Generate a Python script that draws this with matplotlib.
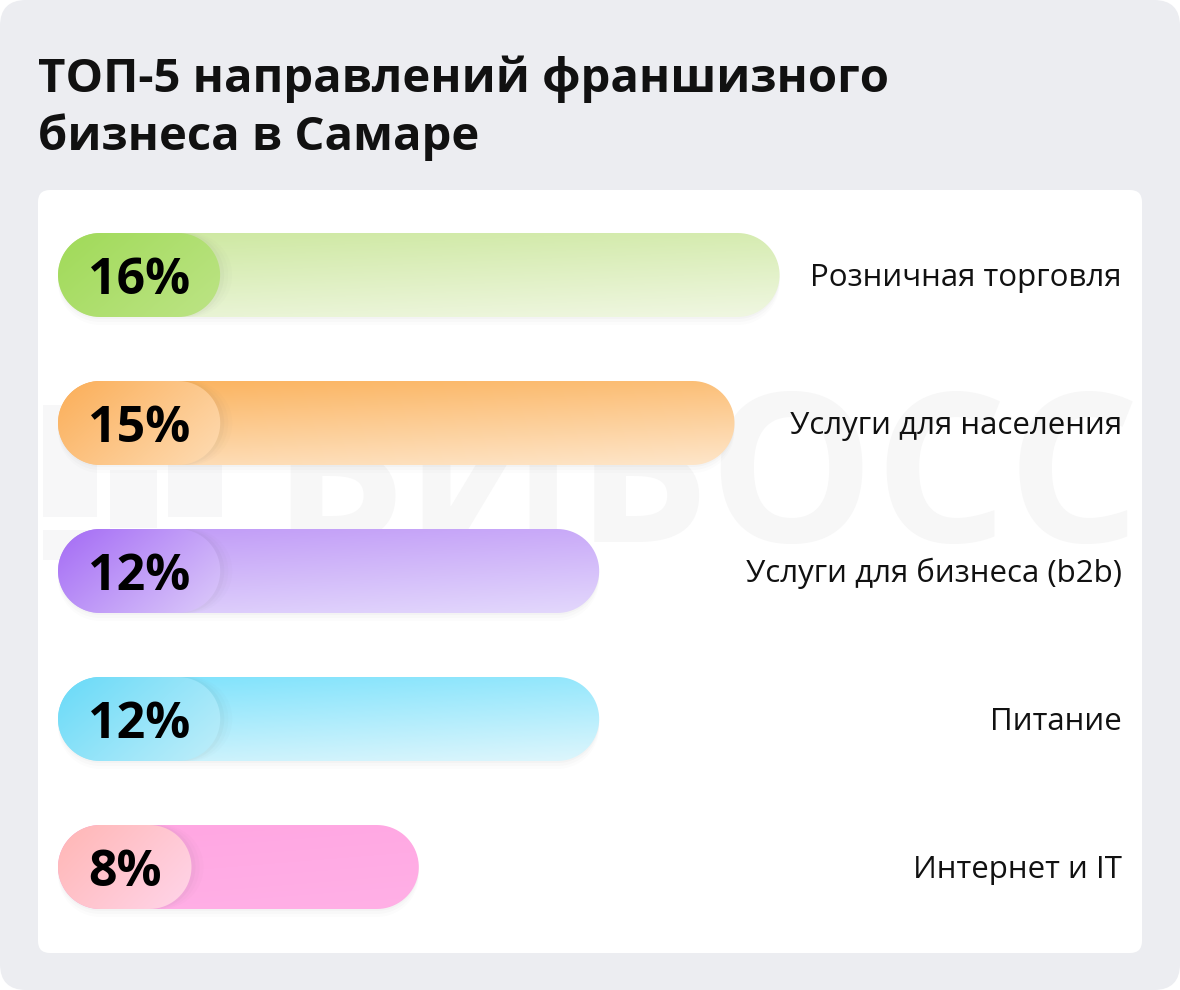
import numpy as np
import matplotlib
matplotlib.use("Agg")
from matplotlib import pyplot as plt
from matplotlib.patches import FancyBboxPatch, Rectangle, Polygon
from matplotlib.colors import to_rgb
from matplotlib.transforms import offset_copy, blended_transform_factory

plt.rcParams['font.family'] = ['Open Sans', 'DejaVu Sans']

title_lines = ["ТОП-5 направлений франшизного", "бизнеса в Самаре"]
categories = ["Розничная торговля", "Услуги для населения", "Услуги для бизнеса (b2b)",
              "Питание", "Интернет и IT"]
values = [16, 15, 12, 12, 8]

# (bar top-left, bar bottom-right, pill left, pill right)
bar_colors = [
    ("#cde8a0", "#f0f7e2", "#a0da58", "#bde486"),
    ("#fbb25c", "#fee6ca", "#fbae58", "#fedcb4"),
    ("#c09af7", "#e3d8fc", "#a46bf5", "#dccbfa"),
    ("#7ce2fc", "#def6fc", "#68daf8", "#c0eefa"),
    ("#ffa6e2", "#ffb0e6", "#ffb6b4", "#ffd5ea"),
]

W, H = 1180, 990
fig = plt.figure(figsize=(W / 100, H / 100), dpi=100)
fig.patch.set_facecolor("white")

bg = fig.add_axes([0, 0, 1, 1])
bg.set_xlim(0, W)
bg.set_ylim(H, 0)
bg.axis("off")
bg.add_patch(FancyBboxPatch((0, 0), W, H, boxstyle="round,pad=0,rounding_size=26",
                            fc="#ecedf1", ec="none"))
bg.add_patch(FancyBboxPatch((38, 190), 1104, 763, boxstyle="round,pad=0,rounding_size=12",
                            fc="white", ec="none"))

# faint watermark
for (x, y, w, h) in [(43, 405, 54, 112), (110, 470, 47, 58), (168, 405, 54, 112),
                     (43, 530, 54, 30), (168, 530, 54, 30), (110, 540, 47, 20)]:
    bg.add_patch(Rectangle((x, y), w, h, fc="#f7f7f8", ec="none"))
bg.text(1140, 488, "БИБОСС", ha="right", va="center", fontsize=150,
        color="#f7f7f7", fontweight="bold")

bg.text(38, 92, title_lines[0], fontsize=34, fontweight="bold", va="baseline", color="#111111")
bg.text(38, 150, title_lines[1], fontsize=34, fontweight="bold", va="baseline", color="#111111")

# bar axes: x in percent, y in rows
x0_px, px_per_pct, xmax = 58, 45.1, 20
row_px = 148
ax = fig.add_axes([x0_px / W, (H - 941) / H, px_per_pct * xmax / W, row_px * 5 / H])
ax.set_xlim(0, xmax)
ax.set_ylim(4.5, -0.5)
ax.axis("off")

bh = 84 / row_px
rx = 42 / px_per_pct
ry = bh / 2

def pill_patch(x_end, yc, dx=0.0, dy=0.0, **kw):
    t = np.linspace(-np.pi / 2, np.pi / 2, 40)
    right = np.c_[x_end - rx + rx * np.cos(t), yc + ry * np.sin(t)]
    tb = t[::-1]
    left = np.c_[rx - rx * np.cos(tb), yc + ry * np.sin(tb)]
    pts = np.r_[right, left] + [dx, dy]
    return Polygon(pts, closed=True, **kw)

def grad_img(c1, c2, wx, wy, n=60, m=200):
    xx, yy = np.meshgrid(np.linspace(0, 1, m), np.linspace(0, 1, n))
    t = (wx * xx + wy * yy) / (wx + wy)
    a, b = np.array(to_rgb(c1)), np.array(to_rgb(c2))
    return a[None, None, :] * (1 - t[..., None]) + b[None, None, :] * t[..., None]

fig.canvas.draw()
renderer = fig.canvas.get_renderer()
inv = ax.transData.inverted()
lbl_tr = offset_copy(blended_transform_factory(fig.transFigure, ax.transData), fig,
                     y=-11, units="dots")

for i, (cat, v, cols) in enumerate(zip(categories, values, bar_colors)):
    top = i - bh / 2
    # soft shadow under bar
    for k, a in [(8, 0.010), (5, 0.015), (2, 0.02)]:
        ax.add_patch(pill_patch(v, i, dy=k / row_px, fc="black", alpha=a, ec="none"))
    bar = pill_patch(v, i, fc="none", ec="none")
    ax.add_patch(bar)
    im = ax.imshow(grad_img(cols[0], cols[1], 0.35, 1.0), extent=(0, v, i + bh / 2, top),
                   origin="upper", aspect="auto", interpolation="bilinear", zorder=1)
    im.set_clip_path(bar)

    lbl = ax.text(30 / px_per_pct, i, f"{v}%", fontsize=36, fontweight="bold", color="#000000",
                  va="baseline", ha="left", zorder=5,
                  transform=offset_copy(ax.transData, fig, y=-19, units="dots"))
    ext = lbl.get_window_extent(renderer)
    pill_w = inv.transform((ext.x1 + 30, 0))[0]

    for k, a in [(12, 0.015), (8, 0.02), (4, 0.03)]:
        sh = pill_patch(pill_w + k / px_per_pct, i, fc="#555555", alpha=a, ec="none", zorder=2)
        ax.add_patch(sh)
        sh.set_clip_path(bar)
    pill = pill_patch(pill_w, i, fc="none", ec="none", zorder=3)
    ax.add_patch(pill)
    pim = ax.imshow(grad_img(cols[2], cols[3], 1.0, 0.6), extent=(0, pill_w, i + bh / 2, top),
                    origin="upper", aspect="auto", interpolation="bilinear", zorder=3)
    pim.set_clip_path(pill)

    ax.text(1122 / W, i, cat, fontsize=22.5, color="#111111", ha="right", va="baseline",
            transform=lbl_tr)

ax.set_xlim(0, xmax)
ax.set_ylim(4.5, -0.5)

fig.savefig("out.png", dpi=100)
